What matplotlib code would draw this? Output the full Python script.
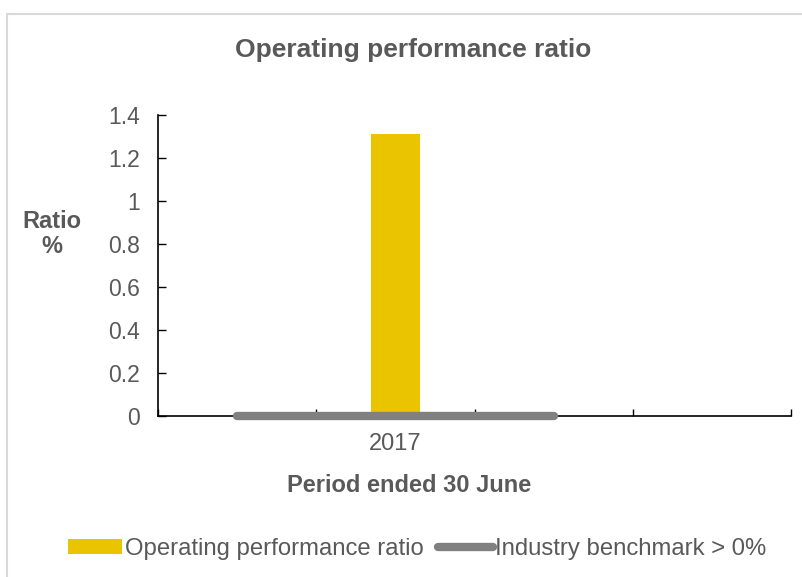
import matplotlib
matplotlib.use("Agg")
import matplotlib.pyplot as plt
from matplotlib.patches import Rectangle
from matplotlib.lines import Line2D

categories = ["", "2017", "", ""]
ratio_values = [None, 1.31, None, None]
benchmark_values = [0, 0, 0]
yticks = [0, 0.2, 0.4, 0.6, 0.8, 1, 1.2, 1.4]
ytick_labels = ["0", "0.2", "0.4", "0.6", "0.8", "1", "1.2", "1.4"]

plt.rcParams['font.family'] = ['Liberation Sans', 'DejaVu Sans']
GREY = "#595959"
YELLOW = "#EBC400"
BENCH = "#808080"

fig = plt.figure(figsize=(8.02, 5.77), dpi=100)
# chart border
fig.add_artist(Rectangle((7/802, -0.1), 1.0, 1 - 14/577 + 0.1, transform=fig.transFigure,
                         fill=False, edgecolor="#D9D9D9", linewidth=1.5))

ax = fig.add_axes([158/802, 1 - 416/577, (791 - 158)/802, (416 - 115)/577])
x = list(range(len(categories)))
bx = [i for i, v in enumerate(ratio_values) if v is not None]
bv = [v for v in ratio_values if v is not None]
ax.bar(bx, bv, width=0.31, color=YELLOW, zorder=2)
ax.plot(range(len(benchmark_values)), benchmark_values, color=BENCH, linewidth=6,
        solid_capstyle='round', zorder=3, clip_on=False)

ax.set_xlim(-0.5, len(categories) - 0.5)
ax.set_ylim(0, 1.4)
ax.set_yticks(yticks)
ax.set_yticklabels(ytick_labels)
ax.set_xticks([i - 0.5 for i in range(len(categories) + 1)])
ax.set_xticklabels([])
ax.set_xticks(x, minor=True)
ax.set_xticklabels(categories, minor=True)
ax.tick_params(axis='x', which='major', direction='in', length=5, width=1, color='black')
ax.tick_params(axis='x', which='minor', length=0, pad=12, labelsize=17, labelcolor=GREY)
ax.tick_params(axis='y', direction='in', length=6, width=1, pad=13, labelsize=16.5, labelcolor=GREY)
for s in ['top', 'right']:
    ax.spines[s].set_visible(False)
for s in ['left', 'bottom']:
    ax.spines[s].set_color('black')
    ax.spines[s].set_linewidth(1.2)

fig.text(413/802, 1 - 50/577, "Operating performance ratio", ha='center', va='center',
         fontsize=19, fontweight='bold', color=GREY)
fig.text(409/802, 1 - 486/577, "Period ended 30 June", ha='center', va='center',
         fontsize=17, fontweight='bold', color=GREY)
fig.text(52/802, 1 - 234/577, "Ratio\n%", ha='center', va='center', linespacing=1.15,
         fontsize=17, fontweight='bold', color=GREY)

handles = [Rectangle((0, 0), 1, 1, facecolor=YELLOW),
           Line2D([0], [0], color=BENCH, linewidth=6, solid_capstyle='round')]
fig.legend(handles, ["Operating performance ratio", "Industry benchmark > 0%"],
           loc='center', bbox_to_anchor=(417/802, 1 - 549/577), ncol=2, frameon=False,
           fontsize=17.2, labelcolor=GREY, handlelength=2.3, handletextpad=0.1,
           columnspacing=0.6, handleheight=0.55)

fig.savefig("out.png", dpi=100)
